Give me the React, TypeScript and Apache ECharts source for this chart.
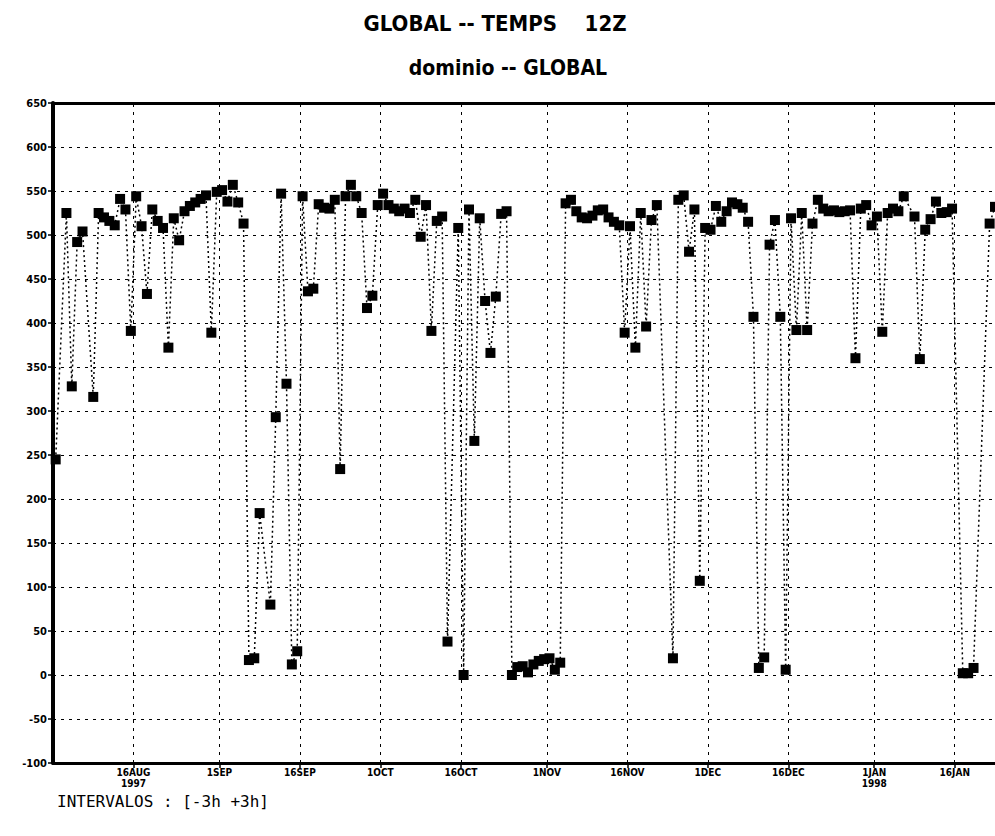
import React, { useEffect, useRef } from "react";
import * as echarts from "echarts";

// Daily 12Z values (null = no observation that day)
const AUG_1997 = [245, null, 525, 328, 492, 504, null, 316, 525, 520, 516, 511, 541, 529, 391, 544, 510, 433, 529, 516, 508, 372, 519, 494, 527, 533, 537, 541, 545, 389, 549];
const SEP_1997 = [551, 538, 557, 537, 513, 17, 19, 184, null, 80, 293, 547, 331, 12, 27, 544, 436, 439, 535, 531, 530, 540, 234, 544, 557, 544, 525, 417, 431, 534];
const OCT_1997 = [547, 534, 530, 527, 530, 525, 540, 498, 534, 391, 516, 521, 38, null, 508, 0, 529, 266, 519, 425, 366, 430, 524, 527, 0, 9, 10, 3, 12, 16, 18];
const NOV_1997 = [19, 6, 14, 536, 540, 527, 520, 519, 522, 528, 529, 520, 515, 511, 389, 510, 372, 525, 396, 517, 534, null, null, 19, 540, 545, 481, 529, 107, 508];
const DEC_1997 = [506, 533, 515, 527, 537, 535, 531, 515, 407, 8, 20, 489, 517, 407, 6, 519, 392, 525, 392, 513, 540, 530, 527, 528, 526, 527, 528, 360, 530, 534, 511];
const JAN_1998 = [521, 390, 525, 530, 527, 544, null, 521, 359, 506, 518, 538, 525, 526, 530, null, 2, 2, 8, null, null, 513, 532];

const MONTH_STARTS = ["1997-08-01", "1997-09-01", "1997-10-01", "1997-11-01", "1997-12-01", "1998-01-01"];
const MONTH_VALUES = [AUG_1997, SEP_1997, OCT_1997, NOV_1997, DEC_1997, JAN_1998];

const TICK_DATES = ["1997-08-16", "1997-09-01", "1997-09-16", "1997-10-01", "1997-10-16", "1997-11-01", "1997-11-16", "1997-12-01", "1997-12-16", "1998-01-01", "1998-01-16"];
const TICK_LABELS = ["16AUG\n1997", "1SEP", "16SEP", "1OCT", "16OCT", "1NOV", "16NOV", "1DEC", "16DEC", "1JAN\n1998", "16JAN"];

const AXIS_START = "1997-08-01";
const AXIS_END_DAYS = 175.5;
const OBS_HOUR = 12;
const Y_MIN = -100;
const Y_MAX = 650;
const Y_STEP = 50;

const DAY_MS = 86400000;
const dayOffset = (iso: string) =>
  (Date.parse(iso + "T00:00:00Z") - Date.parse(AXIS_START + "T00:00:00Z")) / DAY_MS;

const points: [number, number][] = [];
MONTH_STARTS.forEach((start, m) => {
  const base = dayOffset(start);
  MONTH_VALUES[m].forEach((v, k) => {
    if (v !== null && v !== undefined) points.push([base + k + OBS_HOUR / 24, v as number]);
  });
});
const tickDays = TICK_DATES.map(dayOffset);

const LABEL_FONT = '"Liberation Sans Narrow", "DejaVu Sans Condensed", "Liberation Sans", sans-serif';

export default function App() {
  const ref = useRef<HTMLDivElement>(null);
  useEffect(() => {
    if (!ref.current) return;
    const chart = echarts.init(ref.current, undefined, { renderer: "svg" });
    chart.setOption({
      animation: false,
      backgroundColor: "#fff",
      graphic: [
        {
          type: "text",
          x: 495,
          y: 23,
          style: {
            text: "GLOBAL -- TEMPS    12Z",
            font: "bold 22px " + LABEL_FONT,
            fill: "#000",
            align: "center",
            verticalAlign: "middle",
            textAlign: "center",
            textVerticalAlign: "middle",
          },
        },
        {
          type: "text",
          x: 508,
          y: 68,
          style: {
            text: "dominio -- GLOBAL",
            font: "bold 21px " + LABEL_FONT,
            fill: "#000",
            align: "center",
            verticalAlign: "middle",
            textAlign: "center",
            textVerticalAlign: "middle",
          },
        },
        {
          type: "text",
          x: 57,
          y: 801,
          style: {
            text: "INTERVALOS : [-3h +3h]",
            font: '16px "DejaVu Sans Mono", monospace',
            fill: "#000",
            align: "left",
            verticalAlign: "middle",
            textAlign: "left",
            textVerticalAlign: "middle",
          },
        },
      ],
      grid: { left: 53, right: 0, top: 103, height: 660 },
      xAxis: [
        {
          type: "value",
          min: 0,
          max: AXIS_END_DAYS,
          axisLine: { show: true, onZero: false, lineStyle: { color: "#000", width: 3 } },
          axisTick: { show: true, customValues: tickDays, length: 5, inside: false, lineStyle: { color: "#000", width: 1.5 } },
          axisLabel: {
            show: true,
            customValues: tickDays,
            margin: 4,
            color: "#000",
            fontSize: 10,
            fontWeight: "bold",
            fontFamily: LABEL_FONT,
            lineHeight: 11,
            formatter: (val: number) => {
              const idx = tickDays.findIndex((d) => Math.abs(d - val) < 0.01);
              return idx >= 0 ? TICK_LABELS[idx] : "";
            },
          },
          splitLine: { show: false },
        },
        {
          type: "value",
          position: "top",
          min: 0,
          max: AXIS_END_DAYS,
          axisLine: { show: true, onZero: false, lineStyle: { color: "#000", width: 3 } },
          axisTick: { show: false },
          axisLabel: { show: false },
          splitLine: { show: false },
        },
      ],
      yAxis: {
        type: "value",
        min: Y_MIN,
        max: Y_MAX,
        interval: Y_STEP,
        axisLine: { show: true, onZero: false, lineStyle: { color: "#000", width: 4 } },
        axisTick: { show: true, length: 5, lineStyle: { color: "#000", width: 1.5 } },
        axisLabel: {
          color: "#000",
          fontSize: 11,
          fontWeight: "bold",
          fontFamily: LABEL_FONT,
          margin: 6,
        },
        splitLine: { show: true, lineStyle: { color: "#000", width: 1, type: [3, 5] } },
      },
      series: [
        {
          type: "line",
          data: points,
          clip: false,
          symbol: "rect",
          symbolSize: 10,
          showAllSymbol: true,
          itemStyle: { color: "#000" },
          lineStyle: { color: "#000", width: 1.5, type: [2, 3] },
          markLine: {
            silent: true,
            symbol: ["none", "none"],
            label: { show: false },
            lineStyle: { color: "#000", width: 1, type: [3, 5] },
            data: tickDays.map((d) => ({ xAxis: d })),
          },
        },
      ],
    });
    return () => chart.dispose();
  }, []);
  return (
    <div
      ref={ref}
      style={{ position: "fixed", left: 0, top: 0, width: 995, height: 836, background: "#fff" }}
    />
  );
}
